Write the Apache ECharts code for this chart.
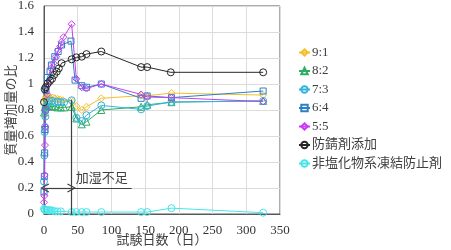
<!DOCTYPE html>
<html>
<head>
<meta charset="utf-8">
<script src="https://cdn.jsdelivr.net/npm/echarts@6/dist/echarts.min.js"></script>
<style>
  html, body { margin: 0; padding: 0; background: #fff; }
  #chart { width: 451px; height: 250px; }
</style>
</head>
<body>
<div id="chart"></div>
<script>
// data (days, mass-gain ratio)
const names = ['9:1', '8:2', '7:3', '6:4', '5:5', '防錆剤添加', '非塩化物系凍結防止剤']

const days91 = [0, 1, 3, 5, 8, 10, 13, 16, 20, 24, 28, 41, 48, 56, 63, 85, 144, 153, 189, 325]
const vals91 = [0.86, 0.88, 0.9, 0.9, 0.895, 0.89, 0.895, 0.89, 0.885, 0.88, 0.875, 0.87, 0.83, 0.80, 0.825, 0.89, 0.91, 0.91, 0.93, 0.915]

const days82 = [0, 1, 3, 5, 8, 12, 16, 20, 25, 30, 41, 48, 56, 63, 85, 144, 153, 189, 325]
const vals82 = [0.78, 0.82, 0.84, 0.83, 0.83, 0.825, 0.83, 0.82, 0.82, 0.82, 0.825, 0.735, 0.69, 0.71, 0.80, 0.825, 0.84, 0.86, 0.87]

const days73 = [0, 0.5, 1, 1.5, 2, 3, 5, 8, 12, 16, 20, 25, 30, 41, 48, 56, 63, 85, 144, 153, 189, 325]
const vals73 = [0.25, 0.45, 0.63, 0.67, 0.75, 0.82, 0.86, 0.87, 0.87, 0.86, 0.865, 0.86, 0.86, 0.875, 0.74, 0.715, 0.76, 0.835, 0.805, 0.83, 0.862, 0.87]

const days64 = [0, 0.5, 1, 1.5, 2, 3, 5, 9, 11, 16, 21, 26, 40, 46, 56, 63, 85, 144, 153, 189, 325]
const vals64 = [0.17, 0.29, 0.47, 0.65, 0.8, 0.95, 1.05, 1.095, 1.146, 1.21, 1.25, 1.30, 1.33, 1.03, 0.987, 0.975, 1.0, 0.89, 0.908, 0.895, 0.946]

const days55 = [0, 0.5, 1, 1.5, 2, 3, 5, 7, 10, 14, 18, 21, 24, 26, 29, 41, 48, 56, 63, 85, 144, 153, 189, 325]
const vals55 = [0.09, 0.14, 0.3, 0.53, 0.67, 0.80, 0.92, 1.0, 1.12, 1.16, 1.21, 1.26, 1.29, 1.325, 1.36, 1.46, 1.04, 0.975, 0.965, 1.0, 0.92, 0.90, 0.895, 0.865]

const daysRust = [0, 1, 2.5, 5.5, 9, 12, 15, 19, 22, 26, 41, 48, 56, 63, 85, 144, 153, 188, 325]
const valsRust = [0.86, 0.96, 0.975, 1.005, 1.025, 1.04, 1.07, 1.095, 1.12, 1.16, 1.19, 1.205, 1.21, 1.23, 1.25, 1.13, 1.13, 1.09, 1.09]

const daysNonCl = [0, 1, 2, 4, 6, 8, 10, 13, 16, 20, 25, 41, 48, 56, 63, 85, 144, 153, 189, 325]
const valsNonCl = [0.04, 0.035, 0.03, 0.03, 0.03, 0.025, 0.03, 0.025, 0.02, 0.02, 0.02, 0.015, 0.015, 0.015, 0.015, 0.015, 0.015, 0.015, 0.045, 0.01]

// annotation (加湿不足): vertical at day 41, arrow at 0.2
const humidDay = 41
const humidTop = 0.88
const arrowY = 0.2
const arrowStart = 1
const noteEnd = 130

const xTicks = { min: 0, max: 350, interval: 50 }
const yTicks = { min: 0, max: 1.6, interval: 0.2 }

const serif = "Liberation Serif, Times New Roman, Noto Sans CJK JP, serif"
const textColor = '#404040'

function pairs(xs, ys) {
  return xs.map((x, i) => [x, ys[i]])
}

function lineSeries(name, xs, ys, color, symbol, size) {
  return {
    name: name,
    type: 'line',
    data: pairs(xs, ys),
    symbol: symbol,
    symbolSize: size,
    showAllSymbol: true,
    color: color,
    lineStyle: { color: color, width: 1 },
    itemStyle: { color: 'rgba(255,255,255,0)', borderColor: color, borderWidth: 1 },
    emphasis: { disabled: true },
    animation: false
  }
}

const chart = echarts.init(document.getElementById('chart'))

const arrowHead = 'path://M5,0 L10,8 L8.8,8.6 L5,2.2 L1.2,8.6 L0,8 Z'

const series = [
  lineSeries(names[0], days91, vals91, '#F5BF2A', 'diamond', 7),
  lineSeries(names[1], days82, vals82, '#2EAD63', 'triangle', 7),
  lineSeries(names[2], days73, vals73, '#33B4DE', 'circle', 7),
  lineSeries(names[3], days64, vals64, '#2C80C3', 'rect', 6),
  lineSeries(names[4], days55, vals55, '#C93CF5', 'diamond', 7),
  lineSeries(names[5], daysRust, valsRust, '#262626', 'circle', 7),
  lineSeries(names[6], daysNonCl, valsNonCl, '#45E6EA', 'circle', 7)
]

// annotation lines hung on the black series
series[5].markLine = {
  silent: true,
  animation: false,
  symbol: ['none', 'none'],
  lineStyle: { color: '#404040', width: 1.2, type: 'solid' },
  label: { show: false },
  data: [
    [{ coord: [humidDay, 0] }, { coord: [humidDay, humidTop] }],
    [{ coord: [arrowStart, arrowY], symbol: arrowHead, symbolSize: [9, 9] },
     { coord: [humidDay, arrowY], symbol: arrowHead, symbolSize: [9, 9] }],
    [{ coord: [humidDay, arrowY] },
     { coord: [noteEnd, arrowY],
       label: { show: true, position: 'insideMiddleTop', formatter: '加湿不足',
                color: textColor, fontSize: 13, fontFamily: serif, distance: 3 } }]
  ]
}

const option = {
  backgroundColor: '#fff',
  animation: false,
  grid: {
    left: 44, right: 171, top: 6, bottom: 36,
    outerBoundsMode: 'none',
    containLabel: false,
    show: true, borderColor: '#595959', borderWidth: 1, backgroundColor: '#fff'
  },
  legend: {
    orient: 'vertical',
    left: 293,
    top: 41,
    itemWidth: 11,
    itemHeight: 8,
    itemGap: 5.5,
    textStyle: { color: textColor, fontSize: 13, fontFamily: serif, padding: [0, 0, 0, -3] },
    data: names
  },
  xAxis: {
    type: 'value',
    min: xTicks.min, max: xTicks.max, interval: xTicks.interval,
    name: '試験日数（日）',
    nameLocation: 'middle',
    nameGap: 20,
    nameMoveOverlap: false,
    nameTextStyle: { color: textColor, fontSize: 13, fontFamily: serif },
    axisLine: { show: true, lineStyle: { color: '#595959' } },
    axisTick: { show: false },
    axisLabel: { color: '#333', fontSize: 13, fontFamily: serif, margin: 10 },
    splitLine: { show: true, lineStyle: { color: '#DCDCDC' } }
  },
  yAxis: {
    type: 'value',
    min: yTicks.min, max: yTicks.max, interval: yTicks.interval,
    name: '質量増加量の比',
    nameLocation: 'middle',
    nameRotate: 90,
    nameGap: 26,
    nameMoveOverlap: false,
    nameTextStyle: { color: textColor, fontSize: 13, fontFamily: serif },
    axisLine: { show: true, lineStyle: { color: '#595959' } },
    axisTick: { show: false },
    axisLabel: { color: '#333', fontSize: 13, fontFamily: serif, margin: 10 },
    splitLine: { show: true, lineStyle: { color: '#DCDCDC' } }
  },
  series: series
}

chart.setOption(option)
</script>
</body>
</html>
